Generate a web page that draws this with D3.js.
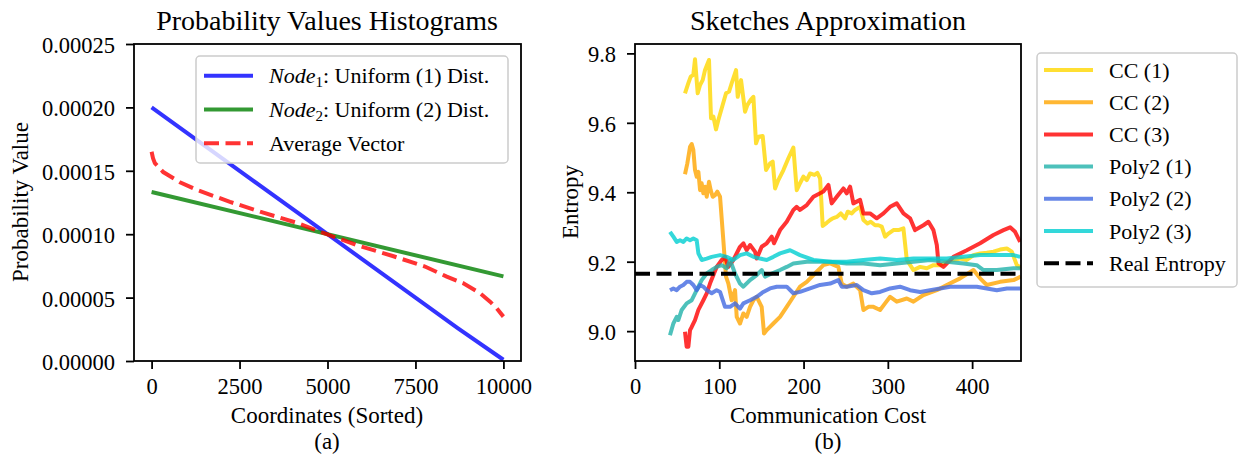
<!DOCTYPE html>
<html>
<head>
<meta charset="utf-8">
<script src="https://cdn.jsdelivr.net/npm/d3@7"></script>
<style>
  body { margin: 0; background: #fff; }
  svg { display: block; }
  svg text { font-family: "Liberation Serif", "Times New Roman", serif; }
  .tick text { font-size: 22.5px; fill: #000; }
</style>
</head>
<body>
<svg id="chart" width="1239" height="454"></svg>
<script>
// -- Data: (a) probability values --
const coordTicks = [0, 2500, 5000, 7500, 10000];
const probTicks = [0, 0.00005, 0.0001, 0.00015, 0.0002, 0.00025];
const node1Coords = [0, 2500, 5000, 7500, 8700, 10000];
const node1Vals = [0.0002, 0.00015, 0.0001, 0.00005, 0.000026, 0.000001];
const node2Coords = [0, 10000];
const node2Vals = [0.0001333, 0.0000667];
const avgCoords = [0, 40, 94, 330, 805, 1280, 2227, 3175, 4124, 4977, 5880, 6830, 7770, 8390, 8862, 9337, 9621, 9811, 10000];
const avgVals = [0.000165, 0.00016, 0.000156, 0.000149, 0.000141, 0.000135, 0.0001255, 0.000117, 0.000109, 0.0001, 0.000091, 0.000083, 0.0000745, 0.0000665, 0.0000613, 0.0000534, 0.0000468, 0.0000415, 0.000035];

// -- Data: (b) sketches, [communication cost, entropy] --
const costTicks = [0, 100, 200, 300, 400];
const entropyTicks = [9.0, 9.2, 9.4, 9.6, 9.8];
const realEntropy = 9.165;
const ccOne = [[59.3,9.685],[63.3,9.714],[66.1,9.733],[69.2,9.738],[71.2,9.783],[74.4,9.685],[77.2,9.709],[80.3,9.723],[83.1,9.752],[87.8,9.781],[90.2,9.613],[93.0,9.618],[96.1,9.581],[98.9,9.608],[102.9,9.642],[108.0,9.685],[111.6,9.690],[114.7,9.714],[119.9,9.752],[121.9,9.675],[125.8,9.723],[130.6,9.632],[133.3,9.651],[137.3,9.666],[140.5,9.675],[143.6,9.541],[146.4,9.560],[151.5,9.562],[155.5,9.464],[160.2,9.483],[163.4,9.488],[166.2,9.411],[170.1,9.435],[176.1,9.464],[182.0,9.498],[187.9,9.529],[191.9,9.406],[195.8,9.426],[199.8,9.445],[203.8,9.435],[207.7,9.454],[212.9,9.450],[216.4,9.456],[219.6,9.440],[222.7,9.303],[227.5,9.312],[231.5,9.320],[234.6,9.325],[239.4,9.329],[244.1,9.339],[249.3,9.325],[252.4,9.344],[257.2,9.339],[261.1,9.349],[267.1,9.358],[271.0,9.320],[275.8,9.310],[279.7,9.315],[284.9,9.305],[288.8,9.305],[292.8,9.301],[296.7,9.272],[300.7,9.281],[306.6,9.291],[312.6,9.291],[318.5,9.296],[322.5,9.205],[330.4,9.176],[338.3,9.185],[346.2,9.181],[354.1,9.190],[362.0,9.190],[369.9,9.200],[377.8,9.205],[385.8,9.209],[393.7,9.205],[401.6,9.219],[409.5,9.224],[417.4,9.226],[425.3,9.229],[433.2,9.235],[441.2,9.238],[447.1,9.229],[453.0,9.190],[457.8,9.183]];
const ccTwo = [[59.3,9.452],[62.1,9.483],[65.3,9.531],[67.3,9.539],[69.2,9.522],[71.2,9.464],[73.2,9.445],[75.2,9.459],[77.2,9.406],[79.1,9.426],[81.1,9.397],[83.1,9.416],[85.1,9.387],[87.8,9.430],[89.8,9.406],[92.2,9.387],[95.0,9.392],[97.7,9.402],[100.9,9.387],[104.8,9.262],[108.0,9.157],[110.8,9.137],[114.7,9.089],[118.7,9.118],[120.7,9.041],[124.6,9.022],[128.6,9.051],[132.5,9.041],[136.5,9.070],[140.5,9.089],[144.4,9.099],[150.3,9.070],[153.1,8.993],[156.3,9.003],[164.2,9.022],[172.1,9.041],[180.0,9.070],[187.9,9.099],[195.8,9.128],[203.8,9.142],[215.6,9.171],[223.5,9.190],[231.5,9.195],[241.3,9.185],[245.3,9.137],[251.2,9.128],[259.1,9.137],[267.1,9.118],[271.0,9.061],[276.9,9.070],[282.9,9.070],[290.8,9.061],[296.7,9.080],[302.7,9.099],[310.6,9.085],[322.5,9.094],[330.4,9.085],[342.2,9.104],[358.1,9.118],[369.9,9.133],[385.8,9.152],[401.6,9.176],[409.5,9.152],[417.4,9.133],[433.2,9.142],[449.1,9.147],[457.8,9.157]];
const ccThree = [[59.3,8.998],[61.3,8.955],[63.3,8.955],[65.3,9.003],[67.3,9.012],[71.2,9.032],[75.2,9.061],[81.1,9.089],[85.1,9.109],[89.0,9.137],[96.9,9.185],[102.9,9.205],[106.8,9.214],[110.8,9.185],[116.7,9.205],[124.6,9.243],[128.6,9.253],[132.5,9.233],[136.5,9.248],[142.4,9.229],[144.4,9.209],[150.3,9.243],[156.3,9.253],[162.2,9.272],[165.0,9.253],[172.1,9.291],[180.0,9.315],[187.9,9.349],[191.9,9.358],[195.8,9.349],[203.8,9.363],[211.7,9.387],[219.6,9.397],[223.5,9.402],[229.5,9.421],[233.4,9.368],[239.4,9.387],[247.3,9.411],[251.2,9.397],[255.2,9.416],[259.1,9.368],[267.1,9.378],[271.0,9.339],[278.9,9.339],[286.8,9.325],[294.8,9.339],[302.7,9.358],[310.6,9.368],[318.5,9.339],[326.4,9.325],[332.3,9.291],[342.2,9.305],[348.2,9.315],[354.1,9.291],[358.1,9.248],[360.1,9.195],[366.0,9.185],[377.8,9.214],[393.7,9.233],[409.5,9.253],[425.3,9.277],[437.2,9.291],[445.1,9.299],[451.0,9.286],[457.0,9.257]];
const polyOne = [[41.5,8.988],[45.5,9.022],[49.5,9.041],[51.4,9.032],[55.4,9.061],[61.3,9.080],[67.3,9.089],[73.2,9.118],[79.1,9.147],[85.1,9.166],[91.0,9.176],[96.9,9.185],[102.9,9.190],[108.8,9.181],[112.8,9.205],[118.7,9.166],[124.6,9.137],[128.6,9.128],[136.5,9.147],[144.4,9.161],[150.3,9.176],[154.3,9.157],[162.2,9.166],[172.1,9.176],[180.0,9.185],[187.9,9.195],[203.8,9.200],[231.5,9.200],[251.2,9.195],[271.0,9.195],[290.8,9.190],[310.6,9.195],[330.4,9.200],[350.1,9.205],[369.9,9.200],[389.7,9.195],[405.5,9.190],[413.5,9.176],[429.3,9.176],[449.1,9.181],[457.0,9.181]];
const polyTwo = [[41.5,9.118],[45.5,9.123],[49.5,9.118],[53.4,9.128],[57.4,9.133],[61.3,9.142],[65.3,9.142],[69.2,9.133],[73.2,9.118],[77.2,9.133],[81.1,9.128],[85.1,9.118],[91.0,9.109],[96.9,9.118],[100.9,9.113],[106.8,9.070],[112.8,9.070],[118.7,9.080],[124.6,9.065],[128.6,9.080],[136.5,9.089],[144.4,9.099],[152.3,9.113],[160.2,9.123],[168.2,9.128],[180.0,9.128],[187.9,9.109],[195.8,9.113],[207.7,9.123],[219.6,9.133],[231.5,9.137],[241.3,9.147],[245.3,9.128],[251.2,9.128],[263.1,9.133],[271.0,9.118],[280.9,9.109],[290.8,9.113],[302.7,9.123],[314.5,9.128],[326.4,9.118],[338.3,9.113],[350.1,9.118],[362.0,9.123],[373.9,9.128],[389.7,9.128],[405.5,9.128],[417.4,9.123],[429.3,9.118],[441.2,9.123],[457.0,9.123]];
const polyThree = [[41.5,9.286],[45.5,9.272],[49.5,9.257],[53.4,9.262],[57.4,9.257],[61.3,9.267],[65.3,9.262],[69.2,9.267],[73.2,9.262],[75.2,9.224],[79.1,9.205],[85.1,9.209],[91.0,9.214],[100.9,9.219],[108.8,9.214],[116.7,9.205],[124.6,9.219],[132.5,9.224],[140.5,9.214],[148.4,9.209],[156.3,9.205],[164.2,9.214],[172.1,9.224],[184.0,9.233],[195.8,9.219],[211.7,9.205],[231.5,9.200],[251.2,9.200],[271.0,9.205],[290.8,9.209],[310.6,9.205],[330.4,9.209],[350.1,9.209],[369.9,9.209],[389.7,9.214],[409.5,9.219],[429.3,9.219],[449.1,9.219],[457.0,9.214]];

const svg = d3.select("#chart");
const SERIF = "Liberation Serif";
const TICK_FONT = 22.5;
const LABEL_FONT = 23;
const LEGEND_FONT = 22;
const TITLE_FONT = 28;

// -- Shared helpers --
function drawFrame(g, x0, y0, x1, y1){
    g.append("rect")
        .attr("x", x0).attr("y", y0)
        .attr("width", x1 - x0).attr("height", y1 - y0)
        .attr("fill", "none")
        .attr("stroke", "#000")
        .attr("stroke-width", 1.8);
}

function styleAxis(g, dy){
    g.attr("font-family", SERIF).attr("font-size", TICK_FONT);
    g.select(".domain").remove();
    g.selectAll("line").attr("stroke-width", 1.8);
    g.selectAll("text").attr("dy", dy);
}

function drawAxes(x, y, xTicks, yTicks, yFormat){
    const bottom = y.range()[0];
    const left = x.range()[0];

    svg.append("g")
        .attr("transform", `translate(0,${bottom})`)
        .call(d3.axisBottom(x).tickValues(xTicks).tickSize(8).tickPadding(9).tickFormat(d3.format("d")))
        .call(g => styleAxis(g, "0.72em"));

    svg.append("g")
        .attr("transform", `translate(${left},0)`)
        .call(d3.axisLeft(y).tickValues(yTicks).tickSize(8).tickPadding(11).tickFormat(yFormat))
        .call(g => styleAxis(g, "0.38em"));
}

function addText(str, x, y, opts = {}){
    const t = svg.append("text")
        .attr("x", x).attr("y", y)
        .attr("text-anchor", opts.anchor || "middle")
        .attr("font-family", SERIF)
        .attr("font-size", opts.size || LABEL_FONT)
        .text(str);
    if (opts.rotate) t.attr("transform", `rotate(-90,${x},${y})`);
    return t;
}

// -- (a) Probability Values Histograms --
const xA = d3.scaleLinear().domain([-500, 10500]).range([134, 521]);
const yA = d3.scaleLinear().domain([0, 0.00025]).range([361, 44]);

const lineA = d3.line().x(d => xA(d[0])).y(d => yA(d[1]));
const zip = (a, b) => a.map((v, i) => [v, b[i]]);

const plotA = svg.append("g");
plotA.append("path").datum(zip(node1Coords, node1Vals))
    .attr("d", lineA).attr("fill", "none")
    .attr("stroke", "#0000ff").attr("stroke-opacity", 0.8).attr("stroke-width", 4);
plotA.append("path").datum(zip(node2Coords, node2Vals))
    .attr("d", lineA).attr("fill", "none")
    .attr("stroke", "#008000").attr("stroke-opacity", 0.8).attr("stroke-width", 4);
plotA.append("path").datum(zip(avgCoords, avgVals))
    .attr("d", lineA).attr("fill", "none")
    .attr("stroke", "#ff0000").attr("stroke-opacity", 0.8).attr("stroke-width", 4)
    .attr("stroke-dasharray", "15,6.5");

drawAxes(xA, yA, coordTicks, probTicks, d3.format(".5f"));
drawFrame(svg.append("g"), 134, 44, 521, 361);

// legend (a)
const legA = svg.append("g");
legA.append("rect")
    .attr("x", 196).attr("y", 56).attr("width", 312).attr("height", 107)
    .attr("rx", 4).attr("fill", "#fff").attr("fill-opacity", 0.8)
    .attr("stroke", "#cccccc").attr("stroke-width", 1.5);

const legAItems = [
    { color: "#0000ff", dash: null, node: "1", label: ": Uniform (1) Dist." },
    { color: "#008000", dash: null, node: "2", label: ": Uniform (2) Dist." },
    { color: "#ff0000", dash: "15,6.5", node: null, label: "Average Vector" }
];
legAItems.forEach((d, i) => {
    const cy = 75.7 + i * 33.8;
    legA.append("line")
        .attr("x1", 204).attr("x2", 253).attr("y1", cy).attr("y2", cy)
        .attr("stroke", d.color).attr("stroke-opacity", 0.8).attr("stroke-width", 4)
        .attr("stroke-dasharray", d.dash);
    const t = legA.append("text").attr("x", 269).attr("y", cy + 7.5)
        .attr("font-family", SERIF).attr("font-size", LEGEND_FONT);
    if (d.node){
        t.append("tspan").attr("font-style", "italic").text("Node");
        t.append("tspan").attr("font-size", 15).attr("dy", 4).text(d.node);
        t.append("tspan").attr("dy", -4).text(d.label);
    } else {
        t.text(d.label);
    }
});

addText("Probability Values Histograms", 327, 30, { size: TITLE_FONT });
addText("Probability Value", 28, 202, { rotate: true });
addText("Coordinates (Sorted)", 327, 423);
addText("(a)", 327, 449);

// -- (b) Sketches Approximation --
const xB = d3.scaleLinear().domain([0, 458]).range([635, 1021]);
const yB = d3.scaleLinear().domain([8.914, 9.827]).range([361, 44]);
const lineB = d3.line().x(d => xB(d[0])).y(d => yB(d[1]));

const sketchSeries = [
    { name: "CC (1)", data: ccOne, color: "#ffd700" },
    { name: "CC (2)", data: ccTwo, color: "#ffa500" },
    { name: "CC (3)", data: ccThree, color: "#ff0000" },
    { name: "Poly2 (1)", data: polyOne, color: "#20b2aa" },
    { name: "Poly2 (2)", data: polyTwo, color: "#4169e1" },
    { name: "Poly2 (3)", data: polyThree, color: "#00ced1" }
];

svg.append("clipPath").attr("id", "clipB")
    .append("rect").attr("x", 635).attr("y", 44).attr("width", 386).attr("height", 317);

const plotB = svg.append("g").attr("clip-path", "url(#clipB)");
sketchSeries.forEach(s => {
    plotB.append("path").datum(s.data)
        .attr("d", lineB).attr("fill", "none")
        .attr("stroke", s.color).attr("stroke-opacity", 0.8)
        .attr("stroke-width", 4).attr("stroke-linejoin", "round");
});
plotB.append("line")
    .attr("x1", xB(0)).attr("x2", xB(458))
    .attr("y1", yB(realEntropy)).attr("y2", yB(realEntropy))
    .attr("stroke", "#000").attr("stroke-width", 4)
    .attr("stroke-dasharray", "15,6.5");

drawAxes(xB, yB, costTicks, entropyTicks, d3.format(".1f"));
drawFrame(svg.append("g"), 635, 44, 1021, 361);

// legend (b)
const legB = svg.append("g");
legB.append("rect")
    .attr("x", 1037).attr("y", 53).attr("width", 200).attr("height", 234)
    .attr("rx", 4).attr("fill", "#fff")
    .attr("stroke", "#cccccc").attr("stroke-width", 1.5);

const legBItems = sketchSeries.concat([{ name: "Real Entropy", color: "#000", dash: "15,6.5" }]);
legBItems.forEach((d, i) => {
    const cy = 70 + i * 32.2;
    legB.append("line")
        .attr("x1", 1044).attr("x2", 1093).attr("y1", cy).attr("y2", cy)
        .attr("stroke", d.color).attr("stroke-opacity", d.dash ? 1 : 0.8)
        .attr("stroke-width", 4).attr("stroke-dasharray", d.dash || null);
    legB.append("text")
        .attr("x", 1109).attr("y", cy + 7.5)
        .attr("font-family", SERIF)
        .attr("font-size", LEGEND_FONT)
        .text(d.name);
});

addText("Sketches Approximation", 828, 30, { size: TITLE_FONT });
addText("Entropy", 578, 202, { rotate: true });
addText("Communication Cost", 828, 423);
addText("(b)", 828, 449);
</script>
</body>
</html>
